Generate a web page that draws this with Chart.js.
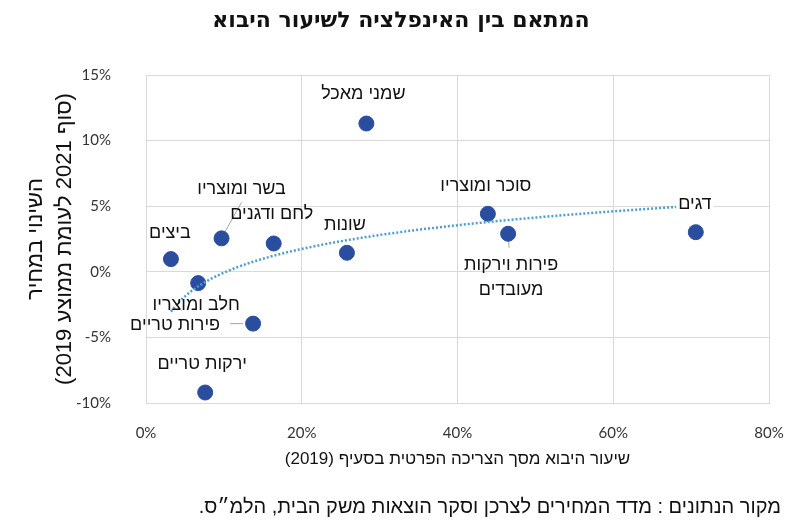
<!DOCTYPE html>
<html>
<head>
<meta charset="utf-8">
<script src="https://cdn.jsdelivr.net/npm/chart.js@4.4.1/dist/chart.umd.min.js"></script>
<style>
  html, body { margin: 0; padding: 0; background: #fff; }
  #wrap { width: 800px; height: 529px; }
</style>
</head>
<body>
<div id="wrap"><canvas id="importChart" width="800" height="529"></canvas></div>
<script>
// data (values in %)
var categories = ['שמני מאכל', 'בשר ומוצריו', 'לחם ודגנים', 'שונות', 'ביצים', 'סוכר ומוצריו',
                  'פירות וירקות מעובדים', 'דגים', 'חלב ומוצריו', 'פירות טריים', 'ירקות טריים'];
var importShare = [28.3, 9.7, 16.4, 25.8, 3.2, 43.9, 46.5, 70.6, 6.7, 13.75, 7.6];   // x
var priceChange = [11.3, 2.55, 2.16, 1.45, 0.97, 4.42, 2.9, 3.02, -0.86, -3.95, -9.2]; // y
var xTicks = [0, 20, 40, 60, 80];
var yTicks = [-10, -5, 0, 5, 10, 15];

var titleText = 'המתאם בין האינפלציה לשיעור היבוא';
var xTitle = 'שיעור היבוא מסך הצריכה הפרטית בסעיף (2019)';
var yTitle = ['השינוי במחיר', '(סוף 2021 לעומת ממוצע 2019)'];
var sourceNote = 'מקור הנתונים : מדד המחירים לצרכן וסקר הוצאות משק הבית, הלמ״ס.';

// label placement (px from the point centre), leader lines, wrapped labels
var labelOffsets = [[-3, -30], [20, -49], [-2, -29], [-2, -28], [-1, -26], [-2, -28],
                    [3, 31], [-1, -28], [-2, 22], [-78, 1], [-3, -28]];
var labelLines = { 6: ['פירות וירקות', 'מעובדים'] };
var leaders = { 1: [[20, -36], [2, -4]], 6: [[0, 0], [1, 14]], 9: [[-23, 0], [-10, 0]] };
var whiteBehind = { 7: true };

function rtl(s) { return '\u202B' + s + '\u202C'; }

// logarithmic trendline fitted to the points (like the spreadsheet trendline)
function logFit(xs, ys) {
    var n = xs.length, sl = 0, sy = 0, sll = 0, sly = 0;
    for (var i = 0; i < n; i++) {
        var l = Math.log(xs[i]);
        sl += l; sy += ys[i]; sll += l * l; sly += l * ys[i];
    }
    var b = (n * sly - sl * sy) / (n * sll - sl * sl);
    return { a: (sy - b * sl) / n, b: b };
}
var fit = logFit(importShare, priceChange);
var xMin = Math.min.apply(null, importShare), xMax = Math.max.apply(null, importShare);
var trend = [];
for (var k = 0; k <= 80; k++) {
    var tx = xMin + (xMax - xMin) * k / 80;
    trend.push({ x: tx, y: fit.a + fit.b * Math.log(tx) });
}

var points = importShare.map(function (v, i) { return { x: v, y: priceChange[i] }; });

var hebFont = '"Liberation Sans", "DejaVu Sans", sans-serif';

var textPlugin = {
    id: 'textPlugin',
    beforeDatasetsDraw: function (chart) {
        var ctx = chart.ctx, meta = chart.getDatasetMeta(1);
        ctx.save();
        ctx.strokeStyle = '#a6a6a6';
        ctx.lineWidth = 1;
        Object.keys(leaders).forEach(function (i) {
            var p = meta.data[i], seg = leaders[i];
            ctx.beginPath();
            ctx.moveTo(p.x + seg[0][0], p.y + seg[0][1]);
            ctx.lineTo(p.x + seg[1][0], p.y + seg[1][1]);
            ctx.stroke();
        });
        ctx.restore();
    },
    afterDatasetsDraw: function (chart) {
        var ctx = chart.ctx, meta = chart.getDatasetMeta(1);
        ctx.save();
        ctx.font = '18px ' + hebFont;
        ctx.textAlign = 'center';
        ctx.textBaseline = 'middle';
        categories.forEach(function (name, i) {
            var p = meta.data[i];
            var lines = labelLines[i] || [name];
            var cx = p.x + labelOffsets[i][0], cy = p.y + labelOffsets[i][1];
            lines.forEach(function (line, j) {
                var y = cy + j * 25;
                if (whiteBehind[i]) {
                    var w = ctx.measureText(line).width;
                    ctx.fillStyle = '#fff';
                    ctx.fillRect(cx - w / 2 - 2, y - 10, w + 4, 20);
                }
                ctx.fillStyle = '#111';
                ctx.fillText(rtl(line), cx, y);
            });
        });
        ctx.restore();
    },
    afterDraw: function (chart) {
        var ctx = chart.ctx;
        ctx.save();
        ctx.fillStyle = '#111';
        ctx.textBaseline = 'middle';
        ctx.font = 'bold 22px "DejaVu Sans", "Liberation Sans", sans-serif';
        ctx.textAlign = 'center';
        ctx.fillText(rtl(titleText), 401, 21);
        ctx.font = '20px ' + hebFont;
        ctx.textAlign = 'right';
        ctx.fillText(rtl(sourceNote), 781, 507);
        ctx.restore();
    }
};

var gridColor = '#d9d9d9';
var tickFont = { family: 'Lato, "Open Sans", sans-serif', size: 15 };

new Chart(document.getElementById('importChart'), {
    type: 'scatter',
    data: {
        datasets: [{
            type: 'line',
            data: trend,
            borderColor: '#4a9fd8',
            borderWidth: 2.5,
            borderDash: [2, 2],
            pointRadius: 0,
            fill: false,
            tension: 0
        }, {
            data: points,
            backgroundColor: '#2a4da0',
            borderColor: '#2a4da0',
            pointRadius: 7.5,
            pointHoverRadius: 7.5
        }]
    },
    options: {
        responsive: false,
        animation: false,
        layout: { padding: { top: 75, right: 31, left: 0, bottom: 0 } },
        plugins: { legend: { display: false }, tooltip: { enabled: false } },
        scales: {
            x: {
                type: 'linear',
                min: xTicks[0], max: xTicks[xTicks.length - 1],
                afterBuildTicks: function (s) { s.ticks = xTicks.map(function (v) { return { value: v }; }); },
                afterFit: function (s) { s.height = 126; s.paddingRight = 0; s.paddingLeft = 0; },
                grid: { color: gridColor, drawTicks: false },
                border: { color: gridColor },
                ticks: { padding: 21, color: '#333', font: tickFont, callback: function (v) { return v + '%'; } },
                title: { display: true, text: rtl(xTitle), color: '#111', padding: { top: 0, bottom: 59 },
                         font: { family: hebFont, size: 17 } }
            },
            y: {
                min: yTicks[0], max: yTicks[yTicks.length - 1],
                afterBuildTicks: function (s) { s.ticks = yTicks.map(function (v) { return { value: v }; }); },
                afterFit: function (s) { s.width = 146; },
                grid: { color: gridColor, drawTicks: false },
                border: { color: gridColor },
                ticks: { padding: 35, color: '#333', font: tickFont, callback: function (v) { return v + '%'; } },
                title: { display: true, text: yTitle.map(rtl), color: '#111', padding: { top: 21, bottom: 0 },
                         font: { family: hebFont, size: 22, lineHeight: 1.32 } }
            }
        }
    },
    plugins: [textPlugin]
});
</script>
</body>
</html>
